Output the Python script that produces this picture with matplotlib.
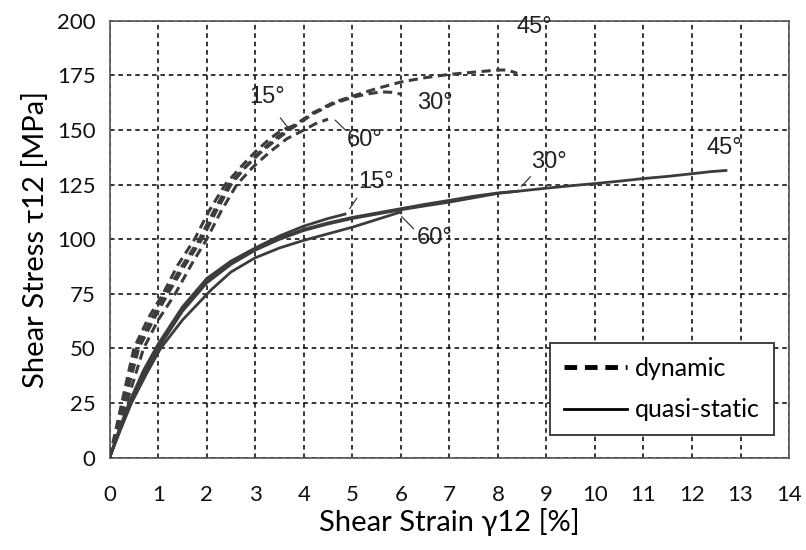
import matplotlib
matplotlib.use("Agg")
import matplotlib.pyplot as plt
from matplotlib.lines import Line2D

# ---- data ----
dyn15_x = [0, 0.12, 0.25, 0.5, 0.8, 1.1, 1.4, 1.75, 2.05, 2.38, 2.7, 3.0, 3.3, 3.55, 3.8]
dyn15_y = [0, 12, 25, 50, 64, 75, 88, 100, 113, 125, 133, 140, 146, 150, 152]
dyn45_x = [0, 0.14, 0.28, 0.55, 0.85, 1.15, 1.5, 1.85, 2.15, 2.45, 2.75, 3.05, 3.35, 3.65, 4.2, 4.6, 5.0, 5.5, 6.0, 6.5, 7.0, 7.5, 8.0, 8.2, 8.4]
dyn45_y = [0, 12, 25, 50, 63, 75, 88, 100, 113, 125, 132, 139, 145, 150, 158, 162.5, 165.5, 169, 172, 174, 175.5, 176.5, 177.5, 177.5, 176]
dyn30_x = [0, 0.15, 0.3, 0.6, 0.9, 1.2, 1.55, 1.9, 2.2, 2.5, 2.8, 3.1, 3.4, 3.7, 4.2, 4.6, 5.0, 5.3, 5.6, 5.8, 6.0]
dyn30_y = [0, 12, 25, 50, 63, 75, 88, 100, 113, 125, 133, 139.5, 145, 150, 157.5, 162, 165, 166.5, 167.5, 167.3, 166.5]
dyn60_x = [0, 0.17, 0.35, 0.7, 1.0, 1.35, 1.7, 2.0, 2.3, 2.62, 2.95, 3.3, 3.65, 4.0, 4.25, 4.5]
dyn60_y = [0, 12, 25, 50, 63, 75, 89, 100, 113, 125, 133, 140, 146, 150, 153, 155]

qs15_x = [0, 0.2, 0.4, 0.7, 1.0, 1.5, 2.0, 2.5, 3.0, 3.5, 4.0, 4.5, 4.85]
qs15_y = [0, 13, 25, 40, 52, 69, 82, 90, 96, 101.5, 106, 109.5, 111.5]
qs45_x = [0, 0.21, 0.42, 0.7, 1.0, 1.5, 2.0, 2.5, 3.0, 3.5, 4.0, 4.5, 5.0, 5.5, 6.0, 6.5, 7.0, 7.5, 8.0, 8.5, 9.0, 9.5, 10.0, 10.5, 11.0, 11.5, 12.0, 12.4, 12.7]
qs45_y = [0, 13, 25, 38, 50, 67, 80, 88.5, 95, 100, 104, 107, 109.5, 111.5, 113.5, 115.3, 117, 119, 121, 122.2, 123.4, 124.5, 125.5, 126.6, 127.8, 128.8, 130, 131, 131.5]
qs30_x = [0, 0.21, 0.42, 0.7, 1.0, 1.5, 2.0, 2.5, 3.0, 3.5, 4.0, 4.5, 5.0, 5.5, 6.0, 6.5, 7.0, 7.5, 8.0, 8.4]
qs30_y = [0, 13, 25, 38.5, 51, 68, 81, 89.5, 95.5, 100.5, 104.5, 107.5, 110, 112, 114, 116, 117.8, 119.7, 121.2, 122]
qs60_x = [0, 0.22, 0.45, 0.75, 1.05, 1.5, 2.1, 2.5, 3.0, 3.5, 4.0, 4.5, 5.0, 5.5, 6.0]
qs60_y = [0, 12.5, 25, 38, 50, 63, 77, 85, 91.5, 96, 99.5, 102.5, 105.5, 109, 112.5]

x_ticks = list(range(0, 15))
y_ticks = [0, 25, 50, 75, 100, 125, 150, 175, 200]

# labels: (text, x, y)
dyn_labels = [("45°", 8.75, 197), ("30°", 6.7, 162.5), ("15°", 3.25, 165), ("60°", 5.26, 145.5)]
qs_labels = [("15°", 5.5, 126), ("60°", 6.7, 100.7), ("30°", 9.05, 135.5), ("45°", 12.67, 142)]
leaders = [((3.52, 155.5), (3.68, 151.0)),
           ((4.65, 154.5), (4.85, 150.2)),
           ((5.09, 118.7), (4.95, 114.1)),
           ((6.02, 110.3), (6.26, 104.9)),
           ((8.67, 128.6), (8.49, 124.3))]

tick_font = "Lato"
label_font = "Liberation Sans"

fig = plt.figure(figsize=(8.06, 5.50), dpi=100)
ax = fig.add_axes([0.136, 0.168, 0.843, 0.794])

col = "#3c3c3c"
dash = (0, (3.0, 1.8))
for xs, ys in [(dyn15_x, dyn15_y), (dyn45_x, dyn45_y), (dyn30_x, dyn30_y), (dyn60_x, dyn60_y)]:
    ax.plot(xs, ys, color=col, lw=2.2, linestyle=dash, zorder=3)
for xs, ys in [(qs15_x, qs15_y), (qs45_x, qs45_y), (qs30_x, qs30_y), (qs60_x, qs60_y)]:
    ax.plot(xs, ys, color=col, lw=2.0, zorder=3)

for (p0, p1) in leaders:
    ax.plot([p0[0], p1[0]], [p0[1], p1[1]], color=col, lw=0.9, zorder=3)

for t, x, y in dyn_labels + qs_labels:
    ax.text(x, y, t, fontsize=17, family=label_font, color="#222222",
            ha="center", va="center", zorder=4)

ax.set_xlim(0, 14)
ax.set_ylim(0, 200)
ax.set_xticks(x_ticks)
ax.set_yticks(y_ticks)
ax.set_xticklabels([str(v) for v in x_ticks], family=tick_font, fontsize=16)
ax.set_yticklabels([str(v) for v in y_ticks], family=tick_font, fontsize=16)
ax.tick_params(axis="x", length=0, pad=20, colors="#111111")
ax.tick_params(axis="y", length=0, pad=10, colors="#111111")
ax.grid(True, color="black", linestyle=(0, (3, 2.5)), linewidth=1.1)
ax.set_axisbelow(True)
for s in ax.spines.values():
    s.set_color("#555555")
    s.set_linewidth(1.2)

ax.set_xlabel("Shear Strain γ12 [%]", family=tick_font, fontsize=21, labelpad=2)
ax.set_ylabel("Shear Stress τ12 [MPa]", family=tick_font, fontsize=21, labelpad=6)

handles = [Line2D([0], [0], color="black", lw=3.5, linestyle=(0, (2.6, 1.6))),
           Line2D([0], [0], color="black", lw=2)]
leg = ax.legend(handles, ["dynamic", "quasi-static"], loc="lower right",
                bbox_to_anchor=(0.985, 0.04), prop={"family": tick_font, "size": 18},
                fancybox=False, framealpha=1, edgecolor="#333333",
                handlelength=2.5, borderpad=0.55, labelspacing=0.75, handletextpad=0.35,
                borderaxespad=0.2)
leg.get_frame().set_linewidth(1.3)
leg.set_zorder(5)

fig.savefig("out.png", dpi=100)
